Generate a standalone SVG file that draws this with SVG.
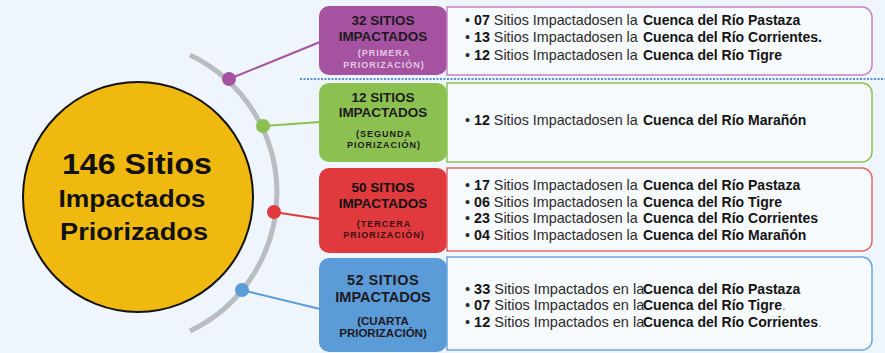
<svg xmlns="http://www.w3.org/2000/svg" width="885" height="353" viewBox="0 0 885 353">
<style>
.lbl{font-family:"Liberation Sans",Arial,sans-serif;font-weight:bold;text-anchor:middle;fill:#1e1a1e}
.main{font-size:13.5px}
.sub{font-size:9px;letter-spacing:1px}
.it{font-family:"Liberation Sans",Arial,sans-serif;font-size:14px;fill:#2a2a2a}
.nt{font-size:14.3px}
.b{font-weight:bold;fill:#141414}
.conn{fill:none;stroke-width:2}
.ctr{font-family:"Liberation Sans",Arial,sans-serif;font-weight:bold;text-anchor:middle;fill:#111}
</style>
<rect width="885" height="353" fill="#eef5fc"/>
<!-- arc -->
<path d="M190,55 A153,153 0 0 1 190,331" fill="none" stroke="#b9bcc0" stroke-width="5"/>
<!-- dotted separator -->
<line x1="300" y1="79" x2="885" y2="79" stroke="#5b8fd6" stroke-width="2" stroke-dasharray="2,1.5"/>
<g id="connectors">
<line class="conn" x1="229" y1="79" x2="320" y2="42" stroke="#a552a0"/>
<line class="conn" x1="263" y1="126" x2="320" y2="122" stroke="#8cc152"/>
<line class="conn" x1="274" y1="212" x2="320" y2="219" stroke="#e03a3e"/>
<line class="conn" x1="242" y1="290" x2="320" y2="309" stroke="#5a9bd8"/>
<circle cx="229" cy="79" r="7" fill="#a552a0"/>
<circle cx="263" cy="126" r="7" fill="#8cc152"/>
<circle cx="274" cy="212" r="7" fill="#e03a3e"/>
<circle cx="242" cy="290" r="7" fill="#5a9bd8"/>
</g>
<g id="center">
<circle cx="138" cy="197" r="115" fill="#f0b90f" stroke="#111" stroke-width="2"/>
<text class="ctr" x="137" y="174" font-size="30" textLength="150" lengthAdjust="spacingAndGlyphs">146 Sitios</text>
<text class="ctr" x="132" y="207" font-size="24" textLength="147" lengthAdjust="spacingAndGlyphs">Impactados</text>
<text class="ctr" x="134" y="240" font-size="24" textLength="148" lengthAdjust="spacingAndGlyphs">Priorizados</text>
</g>
<g id="n1">
<rect x="319" y="6" width="128" height="69" rx="10" fill="#a552a0"/>
<path d="M447,7 H862 A10,10 0 0 1 872,17 V65 A10,10 0 0 1 862,75 H447 Z" fill="#f7fafd" stroke="#c584c2" stroke-width="1.5"/>
<text class="lbl main" x="383" y="25" fill="#2a1a2a">32 SITIOS</text>
<text class="lbl main" x="383" y="41">IMPACTADOS</text>
<text class="lbl sub" x="384" y="56" style="fill:#e3c8e2">(PRIMERA</text>
<text class="lbl sub" x="384" y="68" style="fill:#e3c8e2">PRIORIZACIÓN)</text>
<text class="it nt" x="465" y="25">• <tspan class="b">07</tspan> Sitios Impactadosen la</text>
<text class="it b" x="643" y="25">Cuenca del Río Pastaza</text>
<text class="it nt" x="465" y="42">• <tspan class="b">13</tspan> Sitios Impactadosen la</text>
<text class="it b" x="643" y="42">Cuenca del Río Corrientes.</text>
<text class="it nt" x="465" y="60">• <tspan class="b">12</tspan> Sitios Impactadosen la</text>
<text class="it b" x="643" y="60">Cuenca del Río Tigre</text>
</g>
<g id="n2">
<rect x="319" y="83" width="128" height="79" rx="10" fill="#8cc152"/>
<path d="M447,83 H862 A10,10 0 0 1 872,93 V152 A10,10 0 0 1 862,162 H447 Z" fill="#f7fafd" stroke="#8dc450" stroke-width="1.5"/>
<text class="lbl main" x="383" y="102">12 SITIOS</text>
<text class="lbl main" x="383" y="117">IMPACTADOS</text>
<text class="lbl sub" x="384" y="137">(SEGUNDA</text>
<text class="lbl sub" x="384" y="148">PIORIZACIÓN)</text>
<text class="it nt" x="465" y="125">• <tspan class="b">12</tspan> Sitios Impactadosen la</text>
<text class="it b" x="643" y="125">Cuenca del Río Marañón</text>
</g>
<g id="n3">
<rect x="319" y="168" width="128" height="85" rx="10" fill="#e03a3e"/>
<path d="M447,168 H862 A10,10 0 0 1 872,178 V241 A10,10 0 0 1 862,251 H447 Z" fill="#f7fafd" stroke="#e46a6a" stroke-width="1.5"/>
<text class="lbl main" x="383" y="192" style="fill:#111">50 SITIOS</text>
<text class="lbl main" x="383" y="208" style="fill:#111">IMPACTADOS</text>
<text class="lbl sub" x="384" y="227" style="fill:#3a1010">(TERCERA</text>
<text class="lbl sub" x="384" y="238" style="fill:#3a1010">PRIORIZACIÓN)</text>
<text class="it nt" x="465" y="190">• <tspan class="b">17</tspan> Sitios Impactadosen la</text>
<text class="it b" x="643" y="190">Cuenca del Río Pastaza</text>
<text class="it nt" x="465" y="207">• <tspan class="b">06</tspan> Sitios Impactadosen la</text>
<text class="it b" x="643" y="207">Cuenca del Río Tigre</text>
<text class="it nt" x="465" y="223">• <tspan class="b">23</tspan> Sitios Impactadosen la</text>
<text class="it b" x="643" y="223">Cuenca del Río Corrientes</text>
<text class="it nt" x="465" y="240">• <tspan class="b">04</tspan> Sitios Impactadosen la</text>
<text class="it b" x="643" y="240">Cuenca del Río Marañón</text>
</g>
<g id="n4">
<rect x="319" y="258" width="128" height="94" rx="10" fill="#5a9bd8"/>
<path d="M447,257 H862 A10,10 0 0 1 872,267 V340 A10,10 0 0 1 862,350 H447 Z" fill="#f7fafd" stroke="#6aa6e0" stroke-width="1.5"/>
<text class="lbl main" x="383" y="285" style="font-size:14.5px;letter-spacing:0.5px">52 SITIOS</text>
<text class="lbl main" x="383" y="302" style="font-size:14.5px">IMPACTADOS</text>
<text class="lbl" x="383" y="325" style="font-size:11.5px">(CUARTA</text>
<text class="lbl" x="383" y="337" style="font-size:11.5px">PRIORIZACIÓN)</text>
<text class="it" x="465" y="294" style="font-size:14.5px">• <tspan class="b">33</tspan> Sitios Impactados en la</text>
<text class="it b" x="643" y="294">Cuenca del Río Pastaza</text>
<text class="it" x="465" y="310" style="font-size:14.5px">• <tspan class="b">07</tspan> Sitios Impactados en la</text>
<text class="it" x="643" y="310"><tspan class="b">Cuenca del Río Tigre</tspan><tspan fill="#9a9a9a">.</tspan></text>
<text class="it" x="465" y="327" style="font-size:14.5px">• <tspan class="b">12</tspan> Sitios Impactados en la</text>
<text class="it" x="643" y="327"><tspan class="b">Cuenca del Río Corrientes</tspan><tspan fill="#9a9a9a">.</tspan></text>
</g>
</svg>
